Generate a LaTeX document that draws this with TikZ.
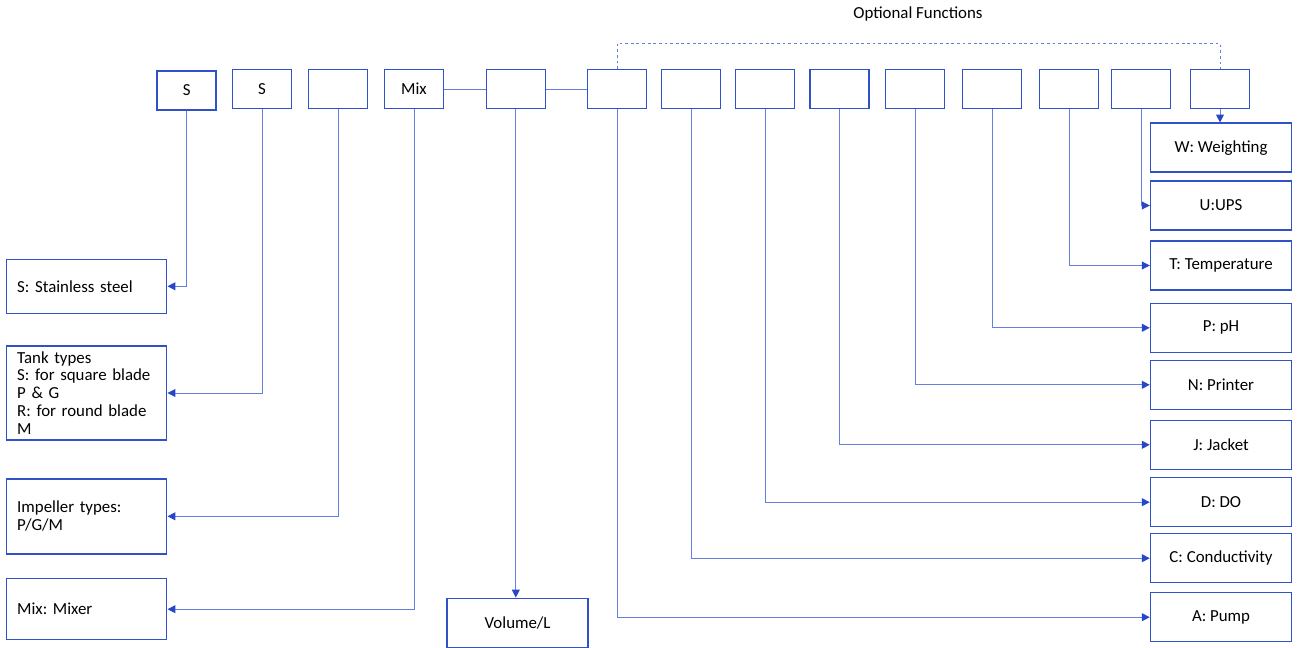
\documentclass[tikz,border=0pt]{standalone}
\usepackage{fontspec}
\setmainfont{Carlito}
\usepackage{tikz}
\usetikzlibrary{arrows.meta}
\definecolor{boxblue}{RGB}{47, 82, 200}
\definecolor{lineblue}{RGB}{100, 128, 225}
\definecolor{tipblue}{RGB}{40, 70, 200}
\frenchspacing

\begin{document}
\begin{tikzpicture}[x=0.02cm, y=-0.02cm,
    font=\fontsize{9.6}{10.2}\selectfont,
    code/.style={draw=boxblue, line width=0.85pt, minimum width=1.18cm, minimum height=0.78cm, inner sep=0pt},
    desc/.style={draw=boxblue, line width=0.85pt, minimum width=2.82cm, minimum height=0.98cm, inner sep=0pt},
    note/.style={draw=boxblue, line width=0.85pt, align=left, text width=2.78cm, inner xsep=6pt, inner ysep=2pt},
    link/.style={draw=lineblue, line width=0.55pt, -{Triangle[length=4.5pt, width=4.5pt, color=tipblue]}},
    plain/.style={draw=lineblue, line width=0.55pt},
    optline/.style={draw=lineblue, line width=0.5pt, dash pattern=on 1.6pt off 1.6pt}]
    \useasboundingbox (0,0) rectangle (1297,648);

    % model code boxes
    \node[code] (matS) at (186.7,90.5) {S};
    \node[code] (tankS) at (262,89.2) {S};
    \node[code] (imp) at (338.2,89.2) {};
    \node[code] (mix) at (414,89.2) {Mix};
    \node[code] (vol) at (515.8,89.2) {};

    % left explanations
    \node[note, minimum height=1.08cm] (descS) at (86.7,286.3) {S: Stainless steel};
    \node[note, minimum height=1.88cm] (descTank) at (86.7,393) {Tank types\\S: for square blade\\P \& G\\R: for round blade\\M};
    \node[note, minimum height=1.5cm] (descImp) at (86.7,516.3) {Impeller types:\\P/G/M};
    \node[note, minimum height=1.22cm] (descMix) at (86.7,609.2) {Mix: Mixer};
    \node[desc] (descVol) at (517.6,622.8) {Volume/L};

    % optional functions
    \foreach \n/\x/\y/\t in {A/617/617.2/{A: Pump}, C/691/558.2/{C: Conductivity},
        D/765/502.2/{D: DO}, J/839.5/444.8/{J: Jacket}, N/915/384.8/{N: Printer},
        P/992/327.8/{P: pH}, T/1069/265.5/{T: Temperature}, U/1141/205.5/{U:UPS},
        W/1220/147.7/{W: Weighting}} {
        \node[code] (opt\n) at (\x,89.2) {};
        \node[desc] (desc\n) at (1221,\y) {\t};
    }
    \node (optTitle) at (918,14) {Optional Functions};

    % connectors
    \draw[plain] (mix.east) -- (vol.west);
    \draw[plain] (vol.east) -- (optA.west);
    \draw[link] (matS.south) |- (descS.east);
    \draw[link] (tankS.south) |- (descTank.east);
    \draw[link] (imp.south) |- (descImp.east);
    \draw[link] (mix.south) |- (descMix.east);
    \draw[link] (vol.south) -- (vol.south |- descVol.north);
    \foreach \n in {A,C,D,J,N,P,T,U}
        \draw[link] (opt\n.south) |- (desc\n.west);
    \draw[link] (optW.south) -- (optW.south |- descW.north);
    \draw[optline] (optA.north) -- ++(0,-25.5) -| (optW.north);
\end{tikzpicture}
\end{document}
